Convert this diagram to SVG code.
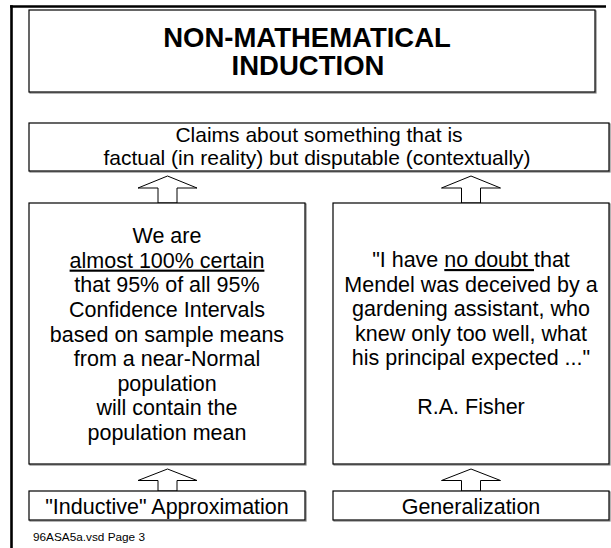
<svg xmlns="http://www.w3.org/2000/svg" width="611" height="548" viewBox="0 0 611 548">
  <style>
    .box { fill: #fff; stroke: #000; stroke-width: 1.2; }
    .shadow { fill: none; stroke: #808080; stroke-width: 1.2; }
    .frame { stroke: #000; stroke-width: 2.6; fill: none; }
    .arrow { fill: #fff; stroke: #000; stroke-width: 1; stroke-linejoin: miter; }
    text { font-family: "Liberation Sans", Arial, sans-serif; fill: #000; text-anchor: middle; }
    .title { font-size: 27.5px; font-weight: bold; }
    .body { font-size: 21.5px; }
    .claim { font-size: 21px; }
    .foot { font-size: 11.5px; text-anchor: start; }
    .ul { text-decoration: underline; }
  </style>

  <rect width="611" height="548" fill="#fff"/>

  <!-- page frame: top and left rules -->
  <g id="frame">
    <line class="frame" x1="10" y1="6.5" x2="606" y2="6.5"/>
    <line class="frame" x1="11.5" y1="5.2" x2="11.5" y2="548"/>
  </g>

  <!-- connectors: hollow block arrows pointing upward -->
  <g id="connectors">
    <polygon class="arrow" points="167.5,176 197,188 177,188 177,203 158,203 158,188 138,188"/>
    <polygon class="arrow" points="471,176 500.5,188 480.5,188 480.5,203 461.5,203 461.5,188 441.5,188"/>
    <polygon class="arrow" points="167.5,469 197,480.5 177,480.5 177,491 158,491 158,480.5 138,480.5"/>
    <polygon class="arrow" points="471,469 500.5,480.5 480.5,480.5 480.5,491 461.5,491 461.5,480.5 441.5,480.5"/>
  </g>

  <g id="title">
    <rect class="shadow" x="30" y="11" width="566" height="82"/>
    <rect class="box" x="29" y="10" width="566" height="82"/>
    <text class="title" x="307" y="47">NON-MATHEMATICAL</text>
    <text class="title" x="308" y="75">INDUCTION</text>
  </g>

  <g id="claims">
    <rect class="shadow" x="30" y="124" width="580" height="48"/>
    <rect class="box" x="29" y="123" width="580" height="48"/>
    <text class="claim" x="319" y="142">Claims about something that is</text>
    <text class="claim" x="317" y="165">factual (in reality) but disputable (contextually)</text>
  </g>

  <g id="confidence">
    <rect class="shadow" x="30" y="204" width="276" height="261"/>
    <rect class="box" x="29" y="203" width="276" height="261"/>
    <text class="body" x="167" y="243">We are</text>
    <text class="body ul" x="167" y="267.6">almost 100% certain</text>
    <text class="body" x="167" y="292.3">that 95% of all 95%</text>
    <text class="body" x="167" y="316.9">Confidence Intervals</text>
    <text class="body" x="167" y="341.5">based on sample means</text>
    <text class="body" x="167" y="366.1">from a near-Normal</text>
    <text class="body" x="167" y="390.8">population</text>
    <text class="body" x="167" y="415.4">will contain the</text>
    <text class="body" x="167" y="440">population mean</text>
  </g>

  <g id="fisher">
    <rect class="shadow" x="334" y="204" width="276" height="261"/>
    <rect class="box" x="333" y="203" width="276" height="261"/>
    <text class="body" x="471" y="267">"I have <tspan class="ul">no doubt </tspan>that</text>
    <text class="body" x="471" y="291.5">Mendel was deceived by a</text>
    <text class="body" x="471" y="316">gardening assistant, who</text>
    <text class="body" x="471" y="340.5">knew only too well, what</text>
    <text class="body" x="471" y="365">his principal expected ..."</text>
    <text class="body" x="471" y="414">R.A. Fisher</text>
  </g>

  <g id="approximation">
    <rect class="shadow" x="30" y="492" width="276" height="29"/>
    <rect class="box" x="29" y="491" width="276" height="29"/>
    <text class="body" x="167" y="513.5">"Inductive" Approximation</text>
  </g>

  <g id="generalization">
    <rect class="shadow" x="334" y="492" width="276" height="29"/>
    <rect class="box" x="333" y="491" width="276" height="29"/>
    <text class="body" x="471" y="513.5">Generalization</text>
  </g>

  <text class="foot" x="33" y="540.5" textLength="112" lengthAdjust="spacingAndGlyphs">96ASA5a.vsd Page 3</text>
</svg>
